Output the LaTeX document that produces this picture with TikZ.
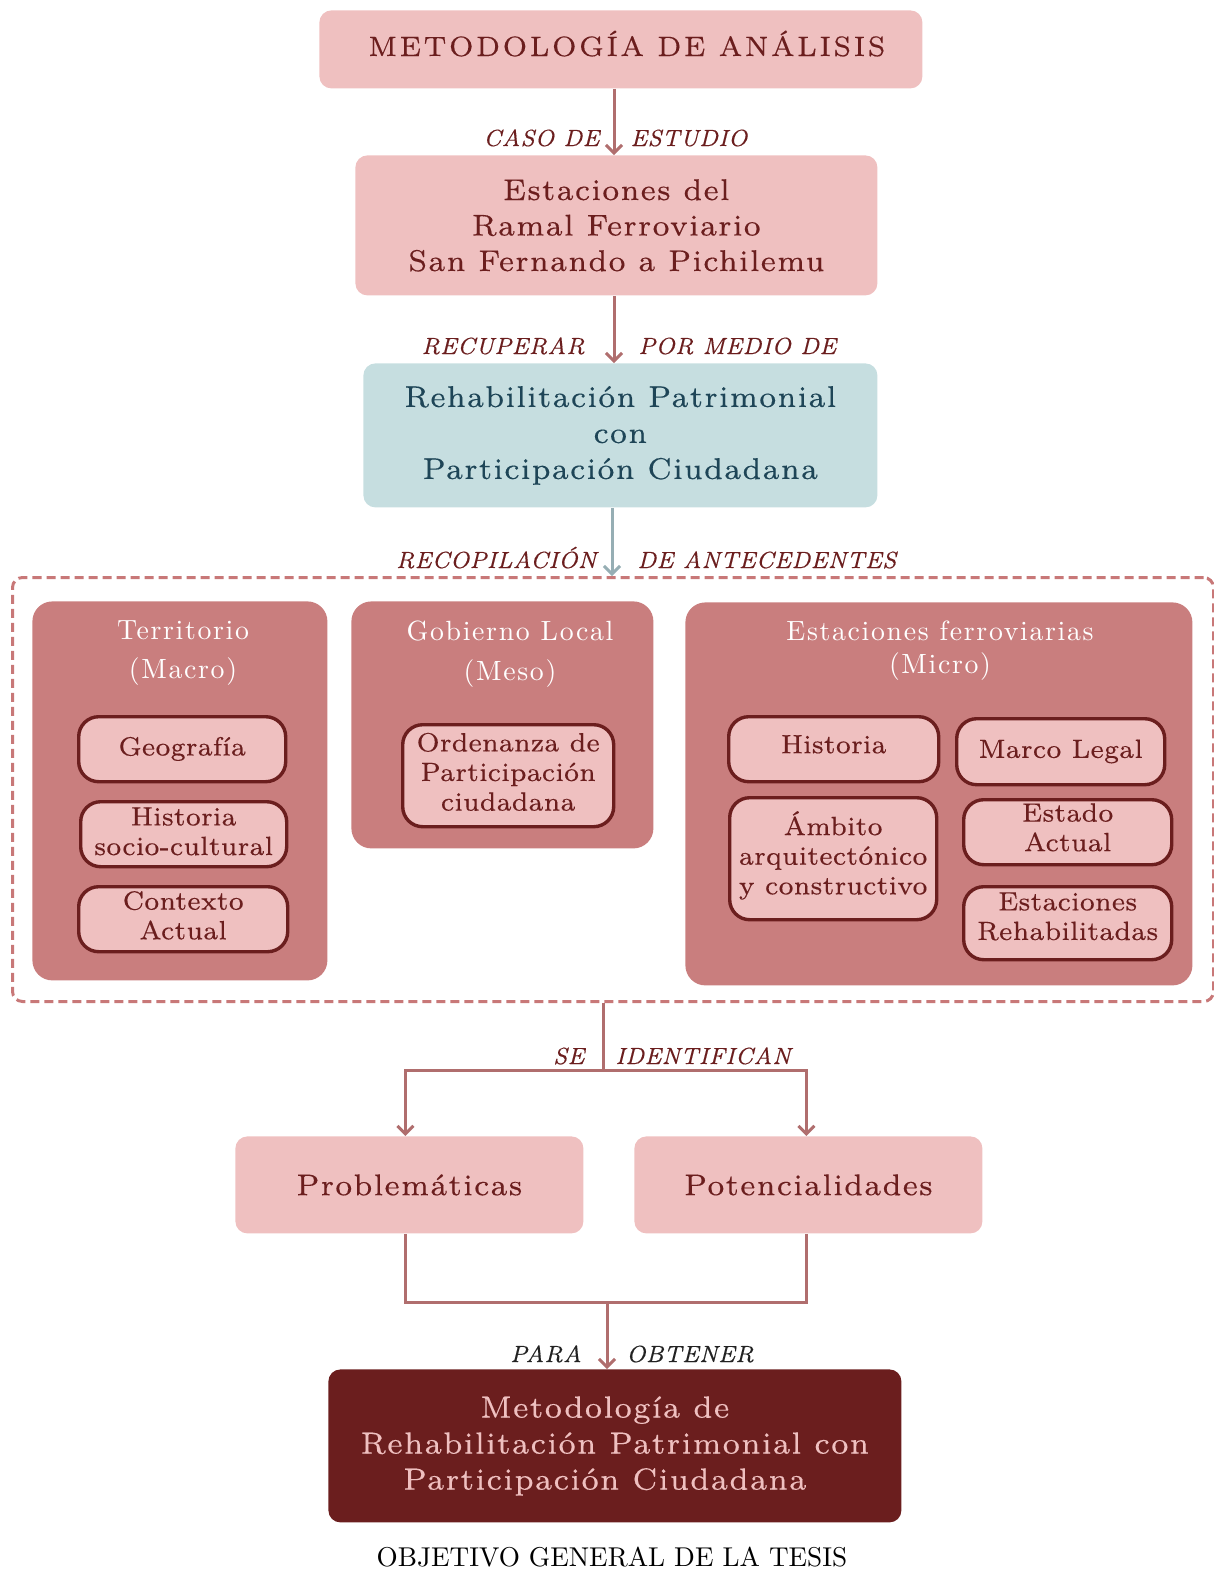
\documentclass[tikz,border=0pt]{standalone}
\usepackage{fontspec}
\setmainfont{lmroman10-regular.otf}[ItalicFont=lmroman10-italic.otf]
\newfontfamily\fMain{lmroman7-regular.otf}[LetterSpace=4,FakeBold=0.3]
\newfontfamily\fHead{lmroman7-regular.otf}[LetterSpace=9,FakeBold=0.3]
\newfontfamily\fLab{lmroman8-italic.otf}[LetterSpace=1,FakeBold=0.4]
\newfontfamily\fGrp{lmroman10-regular.otf}[LetterSpace=6]
\newfontfamily\fIn{lmroman7-regular.otf}[LetterSpace=0.5,FakeBold=0.3]
\usetikzlibrary{arrows.meta}

\definecolor{pinkL}{HTML}{EFC0C0}
\definecolor{wine}{HTML}{6B1E1E}
\definecolor{rose}{HTML}{C97E7E}
\definecolor{arrowc}{HTML}{B06E6E}
\definecolor{tealF}{HTML}{C6DEE0}
\definecolor{tealT}{HTML}{1E4557}
\definecolor{tealA}{HTML}{96AEB4}
\definecolor{dashc}{HTML}{C87878}
\definecolor{inkc}{HTML}{222222}

\tikzset{
  mainbox/.style={anchor=north west, rounded corners=6pt, fill=pinkL, text=wine,
    font=\fMain\fontsize{15}{17.75}\selectfont, align=center, inner sep=0pt},
  groupbox/.style={anchor=north west, rounded corners=10pt, fill=rose, inner sep=0pt},
  grouptitle/.style={text=white, font=\fGrp\fontsize{13.9}{16.5}\selectfont, align=center, inner sep=0pt},
  itembox/.style={anchor=north west, rounded corners=10pt, fill=pinkL, draw=wine,
    line width=1.7pt, text=wine, font=\fIn\fontsize{13.2}{14.8}\selectfont,
    align=center, inner sep=0pt, text depth=3pt},
  lab/.style={text=wine, font=\fLab\fontsize{11.7}{14}\selectfont, inner sep=0pt},
  line/.style={draw=arrowc, line width=1.5pt},
  arr/.style={line, -{Straight Barb[length=4pt,width=8pt]}},
}

\begin{document}
\begin{tikzpicture}[x=0.5pt,y=-0.5pt]
\useasboundingbox (0,0) rectangle (1214,1570);

% main chain
\node[mainbox, font=\fHead\fontsize{14}{16}\selectfont, text height=9.6pt, text depth=3pt,
  minimum width=301.5pt, minimum height=39pt] (title) at (319,10)
  {\hspace*{6pt}METODOLOGÍA DE ANÁLISIS};
\node[mainbox, minimum width=261pt, minimum height=70pt] (est) at (355,155)
  {Estaciones del\\Ramal Ferroviario\\San Fernando a Pichilemu};
\node[mainbox, fill=tealF, text=tealT, font=\fMain\fontsize{15}{18}\selectfont,
  minimum width=257pt, minimum height=72pt] (rehab) at (363,363)
  {Rehabilitación Patrimonial\\con\\Participación Ciudadana};

% collection frame
\node[anchor=north west, draw=dashc, line width=1.5pt, dash pattern=on 4.5pt off 2.5pt,
  rounded corners=5pt, minimum width=600.5pt, minimum height=212pt, inner sep=0pt] (collect) at (11,576) {};

% group boxes
\node[groupbox, minimum width=147.5pt, minimum height=189.5pt] (terr) at (32,601) {};
\node[groupbox, minimum width=151pt, minimum height=123.5pt] (gob) at (351,601) {};
\node[groupbox, minimum width=253.5pt, minimum height=191.5pt] (micro) at (685,602) {};

\node[grouptitle] (terrT) at (183,653) {Territorio\\[3pt](Macro)};
\node[grouptitle] (gobT) at (510,654) {Gobierno Local\\[3.5pt](Meso)};
\node[grouptitle] (microT) at (940,651) {Estaciones ferroviarias\\(Micro)};

% items
\node[itembox, minimum width=103.5pt, minimum height=32.5pt] (geo) at (77,715) {Geografía};
\node[itembox, text depth=3pt, minimum width=103pt, minimum height=32.5pt] (hsc) at (79,800) {Historia\\socio-cultural};
\node[itembox, text depth=4pt, minimum width=104.5pt, minimum height=32.5pt] (ctx) at (77,885) {Contexto\\Actual};
\node[itembox, text depth=4pt, minimum width=105.5pt, minimum height=51pt] (ord) at (401,723) {Ordenanza de\\Participación\\ciudadana};
\node[itembox, text depth=5pt, minimum width=105pt, minimum height=32.5pt] (hist) at (727,715) {Historia};
\node[itembox, minimum width=104pt, minimum height=33pt] (marco) at (955,717) {Marco Legal};
\node[itembox, text depth=6pt, minimum width=103.5pt, minimum height=61pt] (ambito) at (728,796) {Ámbito\\arquitectónico\\y constructivo};
\node[itembox, text depth=5pt, minimum width=104pt, minimum height=32.5pt] (estado) at (962,798) {Estado\\Actual};
\node[itembox, text depth=7pt, minimum width=104pt, minimum height=36.5pt] (rehabs) at (962,885) {Estaciones\\Rehabilitadas};

% results
\node[mainbox, minimum width=174pt, minimum height=48.5pt] (prob) at (235,1136) {Problemáticas};
\node[mainbox, minimum width=174pt, minimum height=48.5pt] (pot) at (634,1136) {Potencialidades};
\node[mainbox, fill=wine, text=pinkL, font=\fMain\fontsize{15.3}{18}\selectfont,
  minimum width=286.5pt, minimum height=76.5pt] (final) at (328,1369)
  {Metodología de\hspace*{10pt}\\Rehabilitación Patrimonial con\hspace*{10pt}\\Participación Ciudadana\hspace*{10pt}};
\node[text=black, font=\fontsize{13.6}{16}\selectfont, inner sep=0pt, anchor=base] (obj) at (612,1566)
  {OBJETIVO GENERAL DE LA TESIS};

% connectors
\coordinate (cA) at (614,0);
\coordinate (cC) at (612,0);
\coordinate (j1) at (603,1070);
\coordinate (j2) at (607,1302);
\draw[arr] (title.south -| cA) -- (est.north -| cA);
\draw[arr] (est.south -| cA) -- (rehab.north -| cA);
\draw[arr, draw=tealA] (rehab.south -| cC) -- (collect.north -| cC);
\draw[line] (collect.south -| j1) -- (j1);
\draw[arr] (j1) -| ([xshift=-2pt]prob.north);
\draw[arr] (j1) -| ([xshift=-1pt]pot.north);
\draw[line] ([xshift=-2pt]prob.south) |- (j2) -| ([xshift=-1pt]pot.south);
\draw[arr] (j2) -- (final.north -| j2);

% connector labels
\node[lab, anchor=base east] (l1a) at (600,146) {CASO DE};
\node[lab, anchor=base west] (l1b) at (630,146) {ESTUDIO};
\node[lab, anchor=base east] (l2a) at (585,354) {RECUPERAR};
\node[lab, anchor=base west] (l2b) at (638,354) {POR MEDIO DE};
\node[lab, anchor=base east] (l3a) at (597,568) {RECOPILACIÓN};
\node[lab, anchor=base west] (l3b) at (637,568) {DE ANTECEDENTES};
\node[lab, anchor=base east] (l4a) at (585,1064) {SE};
\node[lab, anchor=base west] (l4b) at (615,1064) {IDENTIFICAN};
\node[lab, text=inkc, anchor=base east] (l5a) at (582,1362) {PARA};
\node[lab, text=inkc, anchor=base west] (l5b) at (626,1362) {OBTENER};
\end{tikzpicture}
\end{document}
